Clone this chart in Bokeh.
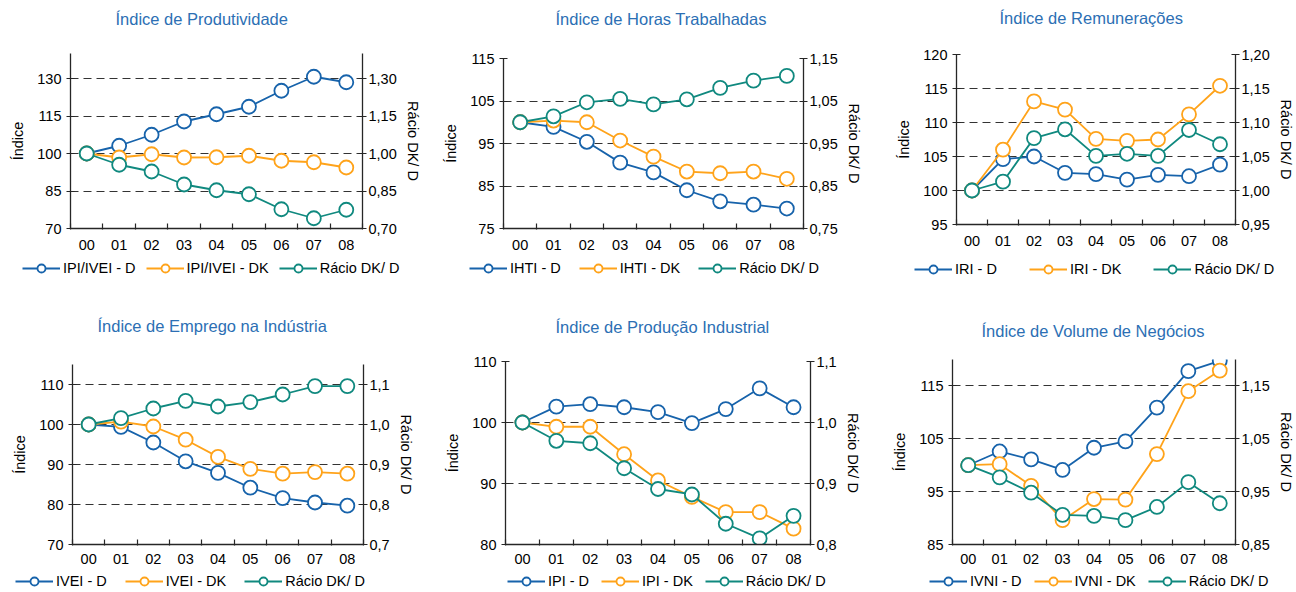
from bokeh.plotting import figure
from bokeh.models import (Range1d, LinearAxis, FixedTicker, Grid, Legend, LegendItem, Title,
                          NumeralTickFormatter, CustomJSTickFormatter)
from bokeh.layouts import column, row
from bokeh.embed import file_html
from bokeh.resources import INLINE

FONT = "Liberation Sans"

# ---------------- data ----------------
years = ["00", "01", "02", "03", "04", "05", "06", "07", "08"]

prod_d = [100, 103.1, 107.5, 112.8, 115.7, 118.7, 125.1, 130.7, 128.5]
prod_dk = [100, 98.4, 99.7, 98.4, 98.5, 99.1, 97.1, 96.5, 94.4]
prod_r = [1.00, 0.955, 0.928, 0.876, 0.853, 0.837, 0.777, 0.741, 0.775]

hor_d = [100, 98.9, 95.4, 90.5, 88.2, 84.0, 81.4, 80.6, 79.7]
hor_dk = [100, 100.4, 100.0, 95.7, 91.9, 88.4, 88.0, 88.4, 86.7]
hor_r = [1.00, 1.014, 1.047, 1.055, 1.042, 1.054, 1.081, 1.098, 1.109]

rem_d = [100, 104.6, 105.0, 102.6, 102.4, 101.6, 102.3, 102.1, 103.8]
rem_dk = [100, 106.0, 113.1, 111.9, 107.6, 107.3, 107.5, 111.2, 115.4]
rem_r = [1.00, 1.013, 1.077, 1.090, 1.051, 1.054, 1.051, 1.089, 1.068]

emp_d = [100, 99.4, 95.5, 90.8, 87.9, 84.2, 81.6, 80.5, 79.7]
emp_dk = [100, 100.7, 99.5, 96.2, 91.9, 88.9, 87.7, 88.1, 87.7]
emp_r = [1.00, 1.016, 1.040, 1.059, 1.045, 1.056, 1.075, 1.096, 1.096]

ipi_d = [100, 102.6, 103.0, 102.5, 101.7, 99.9, 102.2, 105.6, 102.5]
ipi_dk = [100, 99.3, 99.3, 94.8, 90.5, 87.8, 85.3, 85.3, 82.6]
ipi_r = [1.00, 0.970, 0.966, 0.925, 0.891, 0.882, 0.834, 0.810, 0.847]

vn_d = [100, 102.6, 101.1, 99.1, 103.3, 104.5, 110.9, 117.8, 119.75]
vn_dk = [100, 100.2, 96.1, 89.6, 93.6, 93.5, 102.1, 114.0, 117.9]
vn_r = [1.00, 0.977, 0.948, 0.906, 0.904, 0.896, 0.921, 0.968, 0.928]

titles = ["Índice de Produtividade", "Índice de Horas Trabalhadas", "Índice de Remunerações",
          "Índice de Emprego na Indústria", "Índice de Produção Industrial", "Índice de Volume de Negócios"]
series_names = [["IPI/IVEI - D", "IPI/IVEI - DK", "Rácio DK/ D"],
                ["IHTI - D", "IHTI - DK", "Rácio DK/ D"],
                ["IRI - D", "IRI - DK", "Rácio DK/ D"],
                ["IVEI - D", "IVEI - DK", "Rácio DK/ D"],
                ["IPI - D", "IPI - DK", "Rácio DK/ D"],
                ["IVNI - D", "IVNI - DK", "Rácio DK/ D"]]

left_ticks = [[70, 85, 100, 115, 130], [75, 85, 95, 105, 115], [95, 100, 105, 110, 115, 120],
              [70, 80, 90, 100, 110], [80, 90, 100, 110], [85, 95, 105, 115]]
right_ticks = [[0.70, 0.85, 1.00, 1.15, 1.30], [0.75, 0.85, 0.95, 1.05, 1.15],
               [0.95, 1.00, 1.05, 1.10, 1.15, 1.20], [0.7, 0.8, 0.9, 1.0, 1.1],
               [0.8, 0.9, 1.0, 1.1], [0.85, 0.95, 1.05, 1.15]]
right_digits = [2, 2, 2, 1, 1, 2]
left_limits = [(70, 140), (75, 115), (95, 120), (70, 115), (80, 110), (85, 120)]

COLORS = ["#1763ab", "#ffa31a", "#10897f"]
TITLE_COLOR = "#2c6fb4"
AXIS_COLOR = "#262626"


def style_line(col):
    return dict(line_color=col, line_width=1.8)


def style_marker(col):
    return dict(marker="circle", size=14, fill_color="white", line_color=col, line_width=1.8)


def panel(k, d, dk, r, width, height, borders, title_offset, title_gap, x_standoff):
    n = len(years)
    xs = [i + 0.5 for i in range(n)]
    lo, hi = left_limits[k]
    p = figure(width=width, height=height, x_range=Range1d(0, n), y_range=Range1d(lo, hi),
               x_axis_type=None, y_axis_type=None, toolbar_location=None, output_backend="svg",
               min_border_left=borders[0], min_border_right=borders[1],
               min_border_top=borders[2], min_border_bottom=borders[3],
               title=titles[k])
    p.extra_y_ranges = {"r": Range1d(lo / 100, hi / 100)}
    p.outline_line_color = None
    p.background_fill_color = "white"
    p.border_fill_color = "white"

    t = p.title
    t.text_font = FONT
    t.text_font_size = "16.5px"
    t.text_font_style = "normal"
    t.text_color = TITLE_COLOR
    t.align = "left"
    t.offset = title_offset
    t.standoff = 10

    # empty spacer between the title and the chart frame
    p.add_layout(Title(text=" ", text_font_size="1px", text_color="white",
                       standoff=title_gap), "above")

    common = dict(axis_line_color=AXIS_COLOR, axis_line_width=1.3,
                  major_tick_line_color=AXIS_COLOR, minor_tick_line_color=AXIS_COLOR,
                  major_tick_line_width=1.2, minor_tick_line_width=1.2,
                  major_label_text_font=FONT, major_label_text_font_size="14.5px",
                  major_label_text_color="black",
                  axis_label_text_font=FONT, axis_label_text_font_size="14.5px",
                  axis_label_text_font_style="normal", axis_label_text_color="black")

    xaxis = LinearAxis(ticker=FixedTicker(ticks=xs, minor_ticks=list(range(n + 1))),
                       formatter=CustomJSTickFormatter(args=dict(labels=years),
                                                       code="return labels[Math.round(tick - 0.5)];"),
                       major_tick_in=0, major_tick_out=0, minor_tick_in=5, minor_tick_out=1,
                       major_label_standoff=x_standoff, **common)
    p.add_layout(xaxis, "below")

    yaxis = LinearAxis(ticker=FixedTicker(ticks=left_ticks[k]), formatter=NumeralTickFormatter(format="0"),
                       major_tick_in=4, major_tick_out=4, minor_tick_in=0, minor_tick_out=0,
                       major_label_standoff=5, axis_label="Índice", axis_label_standoff=8, **common)
    p.add_layout(yaxis, "left")

    raxis = LinearAxis(y_range_name="r", ticker=FixedTicker(ticks=right_ticks[k]),
                       formatter=CustomJSTickFormatter(args=dict(dg=right_digits[k]),
                                                       code="return tick.toFixed(dg).replace('.', ',');"),
                       major_tick_in=4, major_tick_out=4, minor_tick_in=0, minor_tick_out=0,
                       major_label_standoff=2, axis_label="Rácio DK/ D", axis_label_standoff=5, **common)
    p.add_layout(raxis, "right")

    grid = Grid(dimension=1, ticker=FixedTicker(ticks=left_ticks[k]), grid_line_color="#333333",
                grid_line_dash="8 5", grid_line_width=1)
    p.add_layout(grid)

    series = ((d, COLORS[0], "default"), (dk, COLORS[1], "default"), (r, COLORS[2], "r"))
    for vals, col, rng in series:
        p.line(xs, vals, y_range_name=rng, **style_line(col))
        p.scatter(xs, vals, y_range_name=rng, **style_marker(col))
    return p, series, xs


def legend_strip(k, series, xs, width, height, loc, spacing):
    # separate canvas so that the legend is not clipped by the chart frame;
    # its view window lies far away from the data, so only the legend samples show
    lg = figure(width=width, height=height, x_range=Range1d(-20, -19), y_range=Range1d(-20, -19),
                x_axis_type=None, y_axis_type=None, toolbar_location=None, output_backend="svg",
                min_border=0)
    lg.outline_line_color = None
    lg.xgrid.visible = False
    lg.ygrid.visible = False
    items = []
    for (vals, col, rng), lab in zip(series, series_names[k]):
        ln = lg.line(xs, vals, **style_line(col))
        sc = lg.scatter(xs, vals, **style_marker(col))
        items.append(LegendItem(label=lab, renderers=[ln, sc]))
    legend = Legend(items=items, orientation="horizontal", location=loc, spacing=spacing,
                    glyph_width=38, glyph_height=20, label_height=20, label_standoff=3,
                    padding=0, margin=0,
                    border_line_color=None, background_fill_alpha=0,
                    label_text_font=FONT, label_text_font_size="14.5px", label_text_color="black")
    lg.add_layout(legend)
    return lg


data = [(prod_d, prod_dk, prod_r), (hor_d, hor_dk, hor_r), (rem_d, rem_dk, rem_r),
        (emp_d, emp_dk, emp_r), (ipi_d, ipi_dk, ipi_r), (vn_d, vn_dk, vn_r)]

# per panel: width, main height, borders (l, r, t, b), title offset, gap under title,
#            x label standoff, legend strip height, legend location, legend spacing
cfg = [
    (432, 256, (70, 70, 53, 28), 45, 18, 10, 28, (22, 6), 10),
    (432, 256, (71, 56, 58, 28), 52, 23, 10, 28, (37, 6), 18),
    (432, 256, (92, 58, 54, 32), 43, 20, 10, 28, (50, 5), 32),
    (432, 286, (72, 69, 80, 26), 25, 22, 8, 22, (15, 1), 18),
    (448, 286, (73, 70, 77, 26), 50, 18, 8, 22, (75, 1), 12),
    (416, 286, (72, 59, 75, 26), 29, 12, 8, 22, (49, 1), 12),
]

mains, strips = [], []
for k, ((d, dk, r), c) in enumerate(zip(data, cfg)):
    w, h, b, to, tg, xsd, lh, loc, sp = c
    p, series, xs = panel(k, d, dk, r, w, h, b, to, tg, xsd)
    mains.append(column(p))
    strips.append(column(legend_strip(k, series, xs, w, lh, loc, sp)))

layout = column(row(*mains[:3]), row(*strips[:3]), row(*mains[3:]), row(*strips[3:]))

open("out.html", "w").write(file_html(layout, INLINE))
